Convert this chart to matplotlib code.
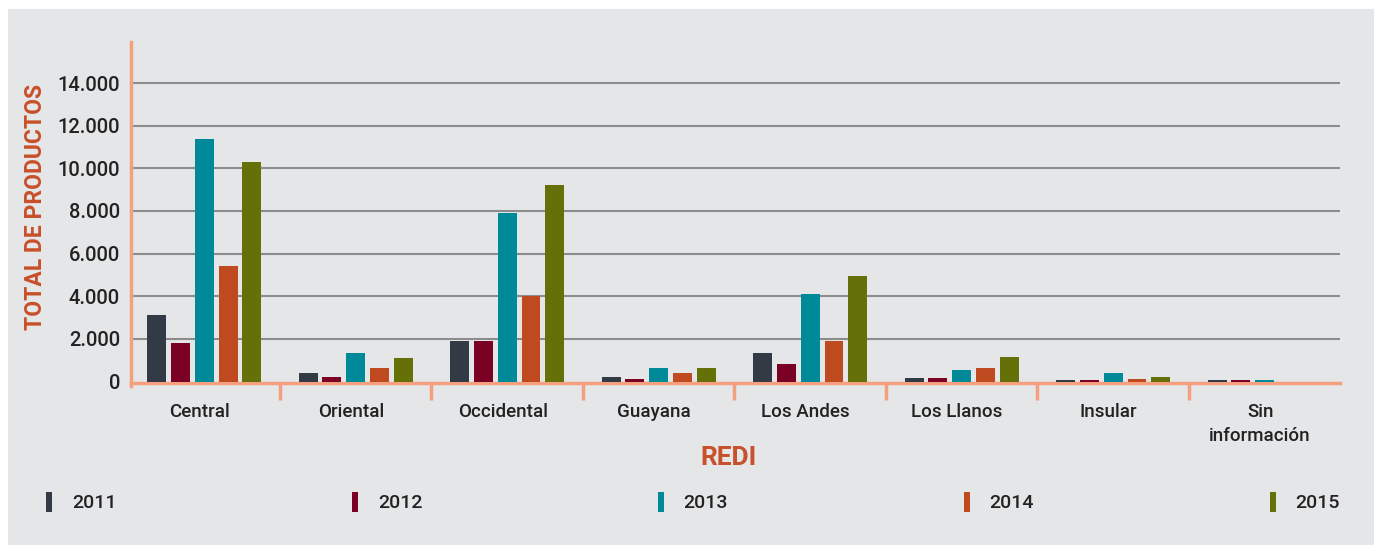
import matplotlib.pyplot as plt
import numpy as np
from matplotlib.patches import Rectangle, Patch
from matplotlib.ticker import FuncFormatter, FixedLocator

plt.rcParams['font.family'] = ['Roboto', 'DejaVu Sans']

regiones = ['Central', 'Oriental', 'Occidental', 'Guayana', 'Los Andes',
            'Los Llanos', 'Insular', 'Sin\ninformación']
anios = ['2011', '2012', '2013', '2014', '2015']
v2011 = [3100, 420, 1900, 230, 1350, 150, 50, 50]
v2012 = [1800, 230, 1900, 140, 840, 150, 50, 50]
v2013 = [11400, 1350, 7900, 650, 4100, 520, 420, 50]
v2014 = [5400, 650, 4000, 420, 1900, 650, 140, 0]
v2015 = [10300, 1080, 9200, 650, 4950, 1170, 230, 0]
series = [v2011, v2012, v2013, v2014, v2015]
colores = ['#323b45', '#7a0024', '#008a99', '#c04a1f', '#667008']

fondo = '#e5e6e8'
naranja = '#f4a07e'
titulo = '#c8502a'

fig = plt.figure(figsize=(13.8, 5.47), dpi=100, facecolor='white')
fig.patches.append(Rectangle((8 / 1380, 2 / 547), 1366 / 1380, 536 / 547,
                             transform=fig.transFigure, facecolor=fondo,
                             edgecolor='none', zorder=-10))

ax = fig.add_axes([131 / 1380, 1 - 381.5 / 547, (1340 - 131) / 1380, (381.5 - 42) / 547])
ax.set_facecolor('none')

x = np.arange(len(regiones))
paso = 0.157
ancho = 0.125
for i, (vals, c) in enumerate(zip(series, colores)):
    ax.bar(x + (i - 2) * paso, vals, width=ancho, color=c, zorder=3)

ax.set_xlim(-0.4835, 7.497)
ax.set_ylim(0, 16000 * (381.5 - 42) / (383 - 42))
ax.set_yticks(np.arange(0, 14001, 2000))
ax.yaxis.set_major_formatter(FuncFormatter(lambda v, p: f'{int(v):,}'.replace(',', '.')))
for y in np.arange(2000, 14001, 2000):
    ax.axhline(y, color='#8c8c8c', lw=1.5, zorder=1)

for s in ['top', 'right']:
    ax.spines[s].set_visible(False)
ax.spines['left'].set_color(naranja)
ax.spines['bottom'].set_color(naranja)
ax.spines['left'].set_linewidth(2.5)
ax.spines['bottom'].set_linewidth(2.5)
ax.spines['bottom'].set_position(('outward', 1.1))
ax.spines['left'].set_bounds(-200, ax.get_ylim()[1])

ax.tick_params(axis='y', length=0, labelsize=14.5, labelcolor='#222222', pad=8)
ax.xaxis.set_major_locator(FixedLocator(np.arange(0.5, len(regiones) - 1, 1)))
ax.xaxis.set_minor_locator(FixedLocator(x - 0.03))
ax.xaxis.set_major_formatter(FuncFormatter(lambda v, p: ''))
ax.set_xticklabels(regiones, minor=True)
ax.tick_params(axis='x', which='major', length=12, width=2.5, color=naranja)
ax.tick_params(axis='x', which='minor', length=0, labelsize=13.5,
               labelcolor='#222222', pad=14.5)
for t in ax.get_yticklabels() + ax.get_xticklabels(minor=True):
    t.set_fontweight('medium')
for t in ax.get_xticklabels(minor=True):
    t.set_linespacing(1.45)

fig.text(36 / 1380, 1 - 207 / 547, 'TOTAL DE PRODUCTOS', rotation=90,
         ha='center', va='center', color=titulo, fontsize=16.5, fontweight='bold')
fig.text(729 / 1380, 1 - 458 / 547, 'REDI', ha='center', va='center',
         color=titulo, fontsize=19, fontweight='bold')

handles = [Patch(facecolor=c, edgecolor='none') for c in colores]
leg = fig.legend(handles, anios, loc='center left', ncol=5, mode='expand',
                 bbox_to_anchor=(46 / 1380, 1 - 502 / 547, (1340 - 46) / 1380, 0),
                 frameon=False, fontsize=14, handlelength=0.33, handleheight=1.2,
                 handletextpad=1.0, borderaxespad=0, borderpad=0)
for t in leg.get_texts():
    t.set_color('#222222')
    t.set_fontweight('medium')

fig.savefig('out.png', dpi=100, facecolor='white')
